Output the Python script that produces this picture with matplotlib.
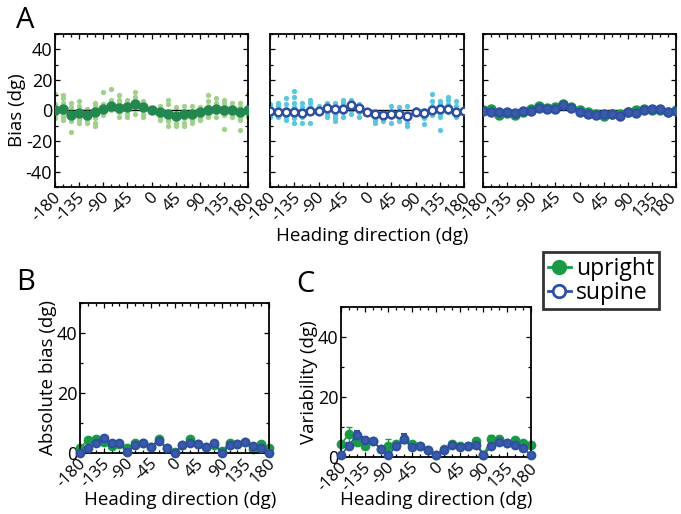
import matplotlib.pyplot as plt
import matplotlib.ticker as mtick
import matplotlib.transforms as mtrans
from matplotlib.lines import Line2D

plt.rcParams['font.family'] = ['Open Sans', 'DejaVu Sans']

headings = list(range(-180, 181, 15))
xtick_vals = [-180, -135, -90, -45, 0, 45, 90, 135, 180]

# Panel A: mean bias per heading
upright_bias = [0, 1, -3, -1.5, -3, -1, 1, 3, 1.5, 2.5, 4, 2, 0,
                -1, -2, -3.5, -2.5, -2.5, -1, 0.5, 1, 0.5, 0, -1, 0]
supine_bias = [-0.4, -1, -1, -1, -1.5, -0.5, -0.5, 1.5, 0.7, 0.7, 3.3, 1.5, -1,
               -2.5, -3, -2.5, -2.5, -3.3, -1, -1.8, 0.5, 0.7, 1, -0.7, -0.4]

# Panel A: individual subjects' bias per heading
upright_subj = [
    [11, 4, 2, -1, -3, -5], [10, 8, 5, 2, -2, -4, -6], [5, 2, -2, -4, -7, -14],
    [6, 3, -1, -4, -6, -8], [1, -2, -4, -6, -8], [5, 3, -2, -5, -8, -10],
    [12, 4, 2, -1, -3], [14, 7, 5, 3, 0], [10, 7, 5, 3, -1, -4],
    [7, 5, 3, 0, -2, -4], [12, 9, 7, 5, 2, -2], [6, 3, 0, -2, -4],
    [1, 0, -1], [3, -2, -4, -6], [7, 4, -2, -5, -7, -10],
    [2, -2, -5, -8, -10], [3, -2, -5, -8, -10], [3, -1, -4, -6, -8],
    [2, 0, -2, -4, -6], [10, 6, 3, 0, -2, -4], [8, 5, 2, -1, -4],
    [7, 5, 2, -1, -3, -12], [5, 2, -2, -4], [5, 2, -2, -4, -6, -13],
    [11, 3, 0, -2, -4],
]
supine_subj = [
    [4, 2, -1, -3, -4], [5, 3, 0, -2, -4], [8, 4, 1, -2, -4, -6],
    [13, 9, 5, 2, -3, -5, -8], [5, 2, -2, -4, -8], [7, 5, 2, -1, -8],
    [3, 1, -1], [5, 3, 0, -2, -4], [5, 3, 0, -3, -5, -7],
    [7, 5, 2, -1, -4], [7, 6, 3, 0, -2], [4, 2, -1, -4],
    [0, -1], [-1, -3, -6, -8], [-1, -3, -5, -7],
    [3, -1, -4, -8], [2, -1, -4, -7], [3, -2, -5, -8, -10],
    [1, -1, -2], [0, -2, -5, -9], [11, 6, 3, 0, -3],
    [6, 4, 1, -2, -4, -13], [9, 7, 4, 2, -1], [6, 3, 0, -3, -4],
    [0],
]

# Panel B: absolute bias
upright_abs = [1.7, 4.3, 4.6, 3.7, 2.4, 3.1, 1.5, 3.4, 3.4, 2.0, 4.5, 1.7, 0.3,
               2.5, 4.6, 2.9, 2.0, 2.8, 0.5, 3.4, 3.1, 3.5, 1.2, 3.0, 1.7]
supine_abs = [0, 1.7, 3.4, 5.0, 3.4, 3.4, 0.3, 2.8, 3.4, 2.0, 3.9, 1.7, 0,
              2.5, 3.4, 2.9, 2.0, 3.4, 0, 2.5, 2.9, 3.7, 2.2, 1.7, 0]

# Panel C: variability with s.e.
upright_var = [4.3, 7.6, 4.9, 3.8, 5.4, 2.7, 3.6, 4.3, 6.0, 4.3, 3.5, 2.2, 0.8,
               2.7, 4.3, 3.8, 3.8, 5.3, 0.8, 5.9, 6.0, 4.6, 5.6, 4.6, 4.0]
upright_var_err = [0.8, 2.5, 0.8, 0.6, 0.8, 0.5, 2.5, 0.6, 1.2, 0.6, 0.6, 0.4, 0.3,
                   0.5, 0.6, 0.6, 0.6, 0.8, 0.3, 1.5, 0.8, 0.6, 0.8, 0.6, 0.6]
supine_var = [0.7, 3.8, 7.4, 5.7, 5.4, 2.7, 0.5, 3.8, 6.0, 3.2, 3.5, 2.2, 0.8,
              2.2, 4.0, 3.2, 3.8, 4.1, 0.8, 3.5, 4.9, 4.6, 4.0, 3.0, 0.5]
supine_var_err = [0.3, 0.8, 1.2, 0.8, 0.6, 0.5, 0.3, 0.6, 1.5, 0.5, 0.5, 0.4, 0.3,
                  0.4, 0.6, 0.5, 0.6, 0.6, 0.3, 0.6, 0.7, 0.6, 0.6, 0.5, 0.3]

GREEN_DARK = '#23884f'
GREEN_LIGHT = '#9fd18a'
GREEN = '#1a9a46'
BLUE = '#2f4fa2'
BLUE_FILL = '#3b5aa8'
BLUE_LIGHT = '#5cc6dd'
TICK_FS = 12
LABEL_FS = 13.5


def style_axis(ax, ylim, yticks, ylabels=True, last_shift=-2):
    ax.set_xlim(-180, 180)
    ax.set_ylim(*ylim)
    ax.set_xticks(xtick_vals)
    ax.set_xticklabels([str(v) for v in xtick_vals], rotation=45,
                       ha='right', rotation_mode='anchor', fontsize=TICK_FS)
    ax.xaxis.set_minor_locator(mtick.MultipleLocator(15))
    ax.set_yticks(yticks)
    ax.yaxis.set_minor_locator(mtick.MultipleLocator(10))
    if ylabels:
        ax.set_yticklabels([str(v) for v in yticks], fontsize=TICK_FS + 1)
    else:
        ax.set_yticklabels([])
    ax.tick_params(which='both', direction='in', top=True, right=True,
                   width=0.9, pad=2)
    ax.tick_params(which='major', length=3.5)
    ax.tick_params(which='minor', length=2.5)
    # nudge rotated labels left so their ends sit on the ticks
    labels = ax.get_xticklabels()
    for i, lab in enumerate(labels):
        dx = last_shift if i == len(labels) - 1 else -2
        shift = mtrans.ScaledTranslation(dx / 100, 0, fig.dpi_scale_trans)
        lab.set_transform(lab.get_transform() + shift)
    for s in ax.spines.values():
        s.set_linewidth(1.3)


fig = plt.figure(figsize=(6.81, 5.14), dpi=100)

ax1 = fig.add_axes([0.0808, 0.6362, 0.2834, 0.2977])
ax2 = fig.add_axes([0.3965, 0.6362, 0.2849, 0.2977])
ax3 = fig.add_axes([0.7093, 0.6362, 0.2834, 0.2977])
axb = fig.add_axes([0.1175, 0.1187, 0.2775, 0.2918])
axc = fig.add_axes([0.5007, 0.1109, 0.2790, 0.2918])

# A - upright
for h, vals in zip(headings, upright_subj):
    ax1.plot([h] * len(vals), vals, 'o', color=GREEN_LIGHT, ms=3.8, mew=0, zorder=1)
ax1.axhline(0, color='black', lw=1, zorder=2)
ax1.plot(headings, upright_bias, '-o', color=GREEN_DARK, ms=6.5, lw=1, zorder=3)

# A - supine
for h, vals in zip(headings, supine_subj):
    ax2.plot([h] * len(vals), vals, 'o', color=BLUE_LIGHT, ms=3.8, mew=0, zorder=1)
ax2.axhline(0, color='black', lw=1, zorder=2)
ax2.plot(headings, supine_bias, '-o', color=BLUE, mfc='white', mec=BLUE,
         ms=5.5, mew=1.8, lw=1, zorder=3)

# A - both
ax3.axhline(0, color='black', lw=1, zorder=1)
ax3.plot(headings, upright_bias, '-o', color=GREEN, ms=6.5, lw=1, zorder=2)
ax3.plot(headings, supine_bias, '-o', color=BLUE, mfc=BLUE_FILL, mec=BLUE,
         ms=6, mew=1.5, lw=1, zorder=3)

style_axis(ax1, (-50, 50), [-40, -20, 0, 20, 40])
style_axis(ax2, (-50, 50), [-40, -20, 0, 20, 40], ylabels=False)
style_axis(ax3, (-50, 50), [-40, -20, 0, 20, 40], ylabels=False, last_shift=-8)
ax1.set_ylabel('Bias (dg)', fontsize=LABEL_FS, labelpad=0)

# B
axb.plot(headings, upright_abs, '-o', color=GREEN, ms=6, lw=1.2, zorder=2,
         clip_on=False)
axb.plot(headings, supine_abs, '-o', color=BLUE, mfc=BLUE_FILL, mec=BLUE,
         ms=5.5, mew=1.5, lw=1.2, zorder=3, clip_on=False)
style_axis(axb, (0, 50), [0, 20, 40])
axb.set_ylabel('Absolute bias (dg)', fontsize=LABEL_FS, labelpad=0)

# C
axc.errorbar(headings, upright_var, yerr=upright_var_err, fmt='-o', color=GREEN,
             ms=6, lw=1.2, elinewidth=1, capsize=2, zorder=2, clip_on=False)
axc.errorbar(headings, supine_var, yerr=supine_var_err, fmt='-o', color=BLUE,
             mfc=BLUE_FILL, mec=BLUE, ms=5.5, mew=1.5, lw=1.2, elinewidth=1,
             capsize=2, zorder=3, clip_on=False)
style_axis(axc, (0, 50), [0, 20, 40])
axc.set_ylabel('Variability (dg)', fontsize=LABEL_FS, labelpad=0)

# x labels
fig.text(372 / 681, 1 - 236 / 514, 'Heading direction (dg)', fontsize=LABEL_FS,
         ha='center', va='center')
fig.text(180 / 681, 1 - 500 / 514, 'Heading direction (dg)', fontsize=LABEL_FS,
         ha='center', va='center')
fig.text(436 / 681, 1 - 500 / 514, 'Heading direction (dg)', fontsize=LABEL_FS,
         ha='center', va='center')

# panel letters
fig.text(25 / 681, 1 - 21 / 514, 'A', fontsize=21, ha='center', va='center')
fig.text(26 / 681, 1 - 283 / 514, 'B', fontsize=21, ha='center', va='center')
fig.text(305 / 681, 1 - 284 / 514, 'C', fontsize=21, ha='center', va='center')

handles = [
    Line2D([], [], color=GREEN, marker='o', ms=10, lw=2),
    Line2D([], [], color=BLUE, marker='o', mfc='white', mec=BLUE, ms=9, mew=2, lw=2),
]
leg = fig.legend(handles, ['upright', 'supine'], loc='upper left',
                 bbox_to_anchor=(543 / 681, 1 - 252 / 514), fontsize=16.5,
                 frameon=True, fancybox=False, handlelength=1.0,
                 handletextpad=0.25, borderpad=0.2, labelspacing=0.0,
                 borderaxespad=0)
leg.get_frame().set_edgecolor('black')
leg.get_frame().set_linewidth(2)

fig.savefig('out.png', dpi=100)
